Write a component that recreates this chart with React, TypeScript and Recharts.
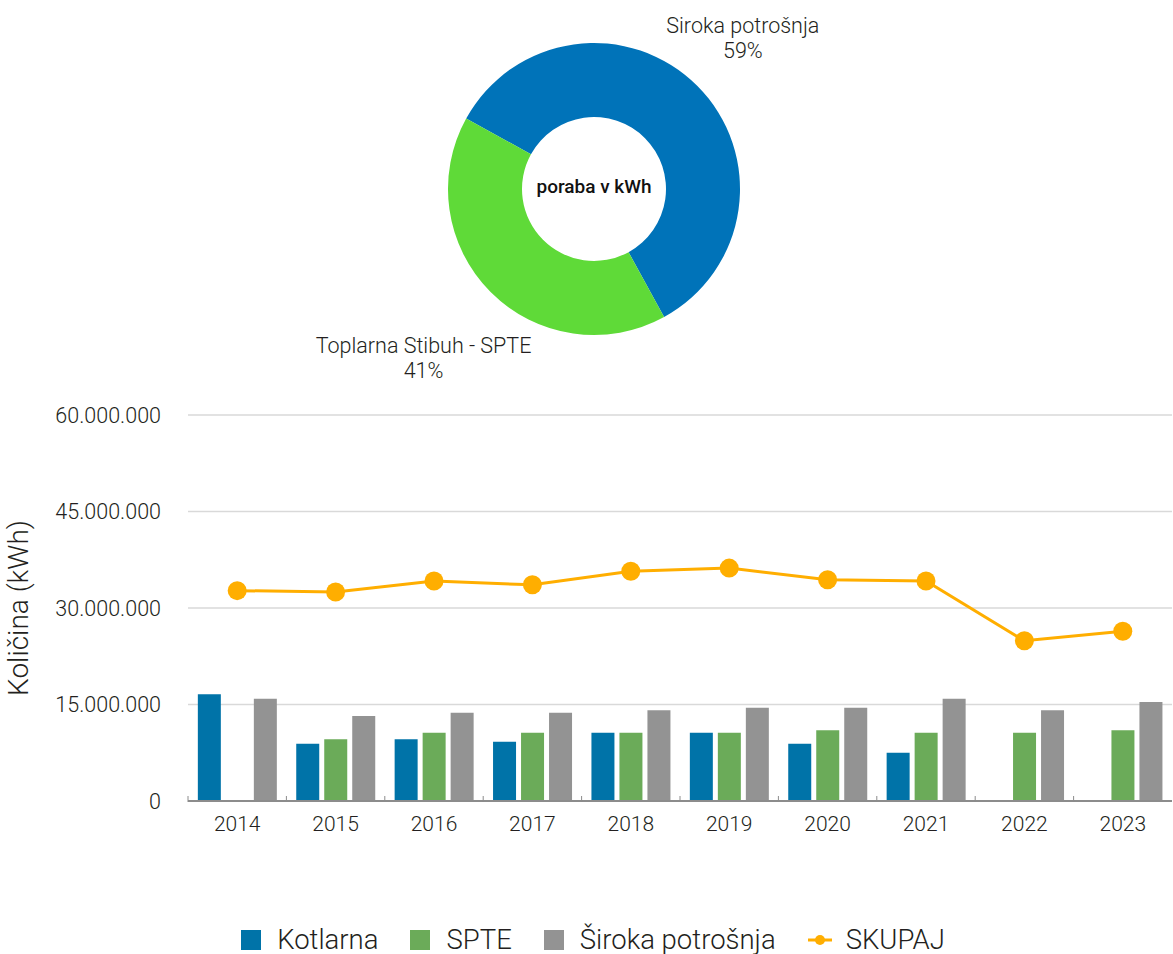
import React from 'react';
import {
  PieChart, Pie, Cell, ComposedChart, Bar, Line, XAxis, YAxis, CartesianGrid,
} from 'recharts';

const years = ['2014', '2015', '2016', '2017', '2018', '2019', '2020', '2021', '2022', '2023'];
const kotlarna = [16600000, 8900000, 9600000, 9200000, 10600000, 10600000, 8900000, 7500000, null, null];
const spte = [null, 9600000, 10600000, 10600000, 10600000, 10600000, 11000000, 10600000, 10600000, 11000000];
const siroka = [15900000, 13200000, 13700000, 13700000, 14100000, 14500000, 14500000, 15900000, 14100000, 15400000];
const skupaj = [32700000, 32500000, 34200000, 33600000, 35700000, 36200000, 34400000, 34200000, 24900000, 26400000];
const yTicks = [0, 15000000, 30000000, 45000000, 60000000];

const pieTitle = 'poraba v kWh';
const pieNames = ['Siroka potrošnja', 'Toplarna Stibuh - SPTE'];
const pieValues = [59, 41];
const pieColors = ['#0073B9', '#5FDA38'];

const seriesNames = ['Kotlarna', 'SPTE', 'Široka potrošnja', 'SKUPAJ'];
const seriesColors = ['#0073A8', '#6BAB59', '#939393', '#FFAE00'];

const FONT = 'Roboto, "DejaVu Sans", sans-serif';
const TEXT = '#231F20';
const LIGHT = 300;

const barData = years.map((y, i) => ({
  year: y,
  kotlarna: kotlarna[i],
  spte: spte[i],
  siroka: siroka[i],
  skupaj: skupaj[i],
}));
const pieData = pieNames.map((n, i) => ({ name: n, value: pieValues[i] }));

const fmt = (v: number) => String(v).replace(/\B(?=(\d{3})+(?!\d))/g, '.');

const CHART_W = 1173;
const MARGIN = { top: 25, right: 1, bottom: 19, left: 6 };
const Y_W = 182;
const PLOT_W = CHART_W - MARGIN.left - MARGIN.right - Y_W;
const STEP = PLOT_W / years.length;

const RADIAN = Math.PI / 180;
const renderPieLabel = (props: any) => {
  const { cx, cy, midAngle, outerRadius, index, percent } = props;
  const name = pieNames[index];
  const estW = name.length * 10;
  const r = outerRadius + 0.42 * estW + (index === 0 ? 4 : -2);
  const x = cx + r * Math.cos(-midAngle * RADIAN) + (index === 0 ? -5 : -3);
  const y = cy + r * Math.sin(-midAngle * RADIAN) + 2;
  return (
    <g>
      <text x={x} y={y} textAnchor="middle" fill={TEXT} fontSize={21.5} fontWeight={LIGHT} fontFamily={FONT}>
        <tspan x={x} dy={-5}>{name}</tspan>
        <tspan x={x} dy={25}>{Math.round(percent * 100)}%</tspan>
      </text>
      {index === 0 && (
        <text
          x={cx}
          y={cy - 3}
          textAnchor="middle"
          dominantBaseline="central"
          fill="#111"
          fontSize={19}
          fontWeight={500}
          fontFamily={FONT}
        >
          {pieTitle}
        </text>
      )}
    </g>
  );
};

const XTick = (props: any) => {
  const { x, y, payload } = props;
  const axisY = y - 15;
  const bx = x - STEP / 2;
  return (
    <g>
      <line x1={bx} y1={axisY - 5} x2={bx} y2={axisY + 1} stroke="#8c8c8c" strokeWidth={1} />
      <text x={x} y={y} dy="0.71em" textAnchor="middle" fill={TEXT} fontSize={21} fontWeight={LIGHT} fontFamily={FONT}>
        {payload.value}
      </text>
    </g>
  );
};

const LegendBox = () => (
  <div
    style={{
      position: 'absolute', top: 923, left: 0, width: 1186, display: 'flex',
      justifyContent: 'center', alignItems: 'center', fontFamily: FONT, fontSize: 27.5,
      fontWeight: LIGHT, color: TEXT,
    }}
  >
    {seriesNames.map((n, i) => (
      <div key={n} style={{ display: 'flex', alignItems: 'center', marginRight: i < 3 ? 32 : 0 }}>
        {i < 3 ? (
          <div style={{ width: 20, height: 20, background: seriesColors[i], marginRight: 16 }} />
        ) : (
          <svg width={24} height={20} style={{ marginRight: 14 }}>
            <line x1={0} y1={10} x2={24} y2={10} stroke={seriesColors[i]} strokeWidth={3} />
            <circle cx={12} cy={10} r={5} fill={seriesColors[i]} />
          </svg>
        )}
        <span>{n}</span>
      </div>
    ))}
  </div>
);

export default function App() {
  return (
    <div style={{ position: 'absolute', left: 0, top: 0, width: 1173, height: 954, background: '#fff' }}>
      <div style={{ position: 'absolute', left: 0, top: 0 }}>
        <PieChart width={1173} height={400} margin={{ top: 0, right: 0, bottom: 0, left: 0 }}>
          <Pie
            data={pieData}
            dataKey="value"
            nameKey="name"
            cx={594}
            cy={189}
            innerRadius={72}
            outerRadius={146}
            startAngle={151.1}
            endAngle={-208.9}
            stroke="none"
            label={renderPieLabel}
            labelLine={false}
            isAnimationActive={false}
          >
            {pieData.map((d, i) => (
              <Cell key={d.name} fill={pieColors[i]} />
            ))}
          </Pie>
        </PieChart>
      </div>
      <div style={{ position: 'absolute', left: 0, top: 390 }}>
        <ComposedChart
          width={CHART_W}
          height={460}
          data={barData}
          margin={MARGIN}
          barCategoryGap="10%"
          barGap={5}
        >
          <CartesianGrid vertical={false} stroke="#d9d9d9" strokeWidth={1.5} />
          <XAxis
            dataKey="year"
            tick={<XTick />}
            tickLine={false}
            tickSize={13}
            tickMargin={2}
            axisLine={{ stroke: '#8c8c8c', strokeWidth: 2 }}
            interval={0}
          />
          <YAxis
            width={Y_W}
            domain={[0, 60000000]}
            ticks={yTicks}
            tickFormatter={fmt}
            axisLine={false}
            tickLine={false}
            tickSize={25}
            tickMargin={2}
            tick={{ fill: TEXT, fontSize: 21.5, fontWeight: LIGHT, fontFamily: FONT }}
            label={{
              value: 'Količina (kWh)', angle: -90, position: 'insideLeft', offset: 12,
              style: { textAnchor: 'middle', fill: TEXT, fontSize: 28, fontWeight: LIGHT, fontFamily: FONT },
            }}
          />
          <Bar dataKey="kotlarna" name={seriesNames[0]} fill={seriesColors[0]} isAnimationActive={false} />
          <Bar dataKey="spte" name={seriesNames[1]} fill={seriesColors[1]} isAnimationActive={false} />
          <Bar dataKey="siroka" name={seriesNames[2]} fill={seriesColors[2]} isAnimationActive={false} />
          <Line
            dataKey="skupaj"
            name={seriesNames[3]}
            stroke={seriesColors[3]}
            strokeWidth={3}
            dot={{ r: 9.5, fill: seriesColors[3], stroke: 'none' }}
            activeDot={false}
            isAnimationActive={false}
          />
        </ComposedChart>
      </div>
      <LegendBox />
    </div>
  );
}
